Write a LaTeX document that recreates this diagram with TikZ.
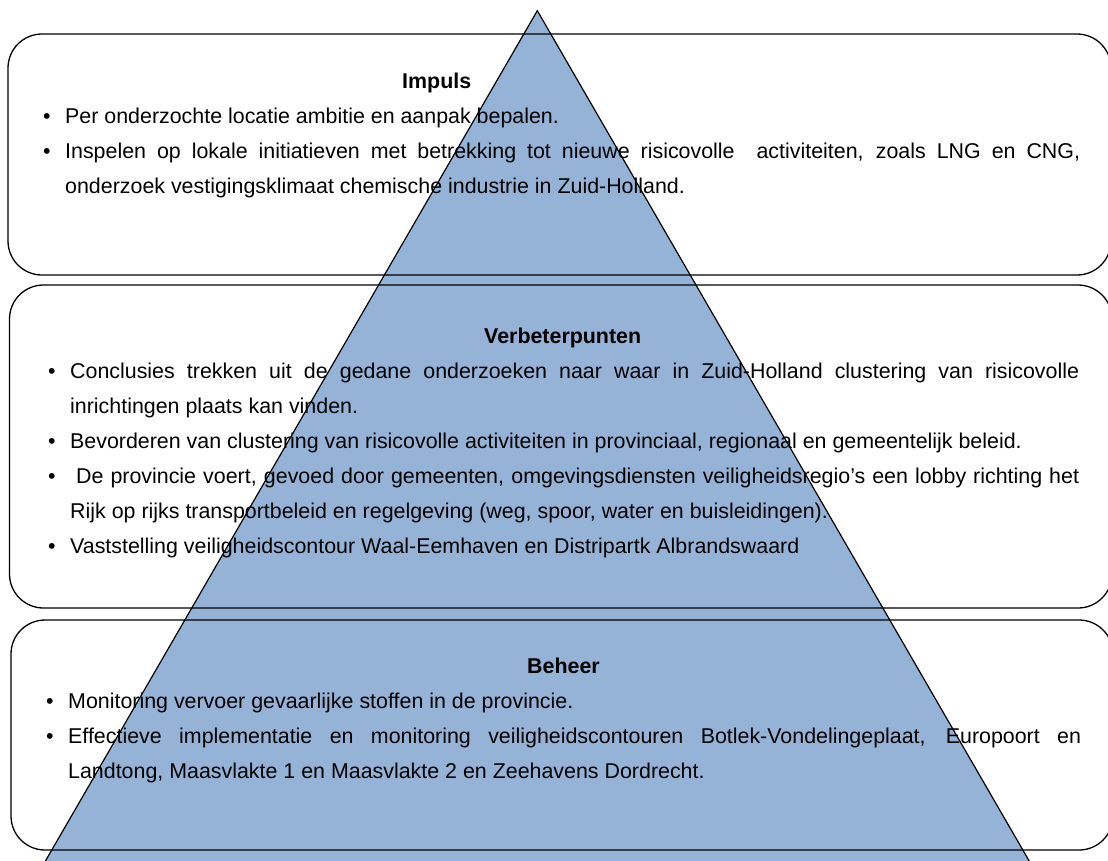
\documentclass[tikz,border=0pt]{standalone}
\usepackage{fontspec}
\setmainfont{Liberation Sans}
\definecolor{trifill}{HTML}{95B3D7}
\newcommand\bitem[1]{\par\noindent\hangindent=22pt\hangafter=1\makebox[22pt][l]{\textbullet}#1}
\newcommand\bodyblock[2]{\parbox[t]{#1}{\fontsize{21.4}{35}\selectfont\hyphenpenalty=10000\relax #2}}
\begin{document}
\begin{tikzpicture}[x=1pt,y=-1pt,
  boxfill/.style={fill=white, rounded corners=34pt},
  boxline/.style={draw=black, line width=1.3pt, rounded corners=34pt},
  tri/.style={fill=trifill, draw=black, line width=1.2pt, line join=miter},
  titletext/.style={font=\fontsize{21.4}{35}\selectfont\bfseries, anchor=base west, inner sep=0pt},
  bodytext/.style={font=\fontsize{21.4}{35}\selectfont, anchor=base west, inner sep=0pt},
]
\useasboundingbox (0,0) rectangle (1108,860);
% box fills
\fill[boxfill] (8,34) rectangle (1111,275);
\fill[boxfill] (9.5,285) rectangle (1112,608);
\fill[boxfill] (11,620) rectangle (1113,850);
% pyramid
\coordinate (apex) at (537.3,10.7);
\coordinate (bl) at (40.2,870);
\coordinate (br) at (1034.4,870);
\draw[tri] (apex) -- (bl) -- (br) -- cycle;
% box outlines
\draw[boxline] (8,34) rectangle (1111,275);
\draw[boxline] (9.5,285) rectangle (1112,608);
\draw[boxline] (11,620) rectangle (1113,850);
% texts
\node[titletext] (t1) at (402,88) {Impuls};
\node[bodytext] (b1) at (43,123) {\bodyblock{1037pt}{%
\bitem{Per onderzochte locatie ambitie en aanpak bepalen.}
\bitem{Inspelen op lokale initiatieven met betrekking tot nieuwe risicovolle\ \ activiteiten, zoals LNG en CNG,\linebreak onderzoek vestigingsklimaat chemische industrie in Zuid-Holland.}}};
\node[titletext] (t2) at (484,343.5) {Verbeterpunten};
\node[bodytext] (b2) at (48,378) {\bodyblock{1031pt}{%
\bitem{Conclusies trekken uit de gedane onderzoeken naar waar in Zuid-Holland clustering van risicovolle\linebreak inrichtingen plaats kan vinden.}
\bitem{Bevorderen van clustering van risicovolle activiteiten in provinciaal, regionaal en gemeentelijk beleid.}
\bitem{\hspace{0.278em}De provincie voert, gevoed door gemeenten, omgevingsdiensten veiligheidsregio’s een lobby richting het\linebreak Rijk op rijks transportbeleid en regelgeving (weg, spoor, water en buisleidingen).}
\bitem{Vaststelling veiligheidscontour Waal-Eemhaven en Distripartk Albrandswaard}}};
\node[titletext] (t3) at (527,673) {Beheer};
\node[bodytext] (b3) at (46,708) {\bodyblock{1035pt}{%
\bitem{Monitoring vervoer gevaarlijke stoffen in de provincie.}
\bitem{Effectieve implementatie en monitoring veiligheidscontouren Botlek-Vondelingeplaat, Europoort en\linebreak Landtong, Maasvlakte 1 en Maasvlakte 2 en Zeehavens Dordrecht.}}};
\end{tikzpicture}
\end{document}
